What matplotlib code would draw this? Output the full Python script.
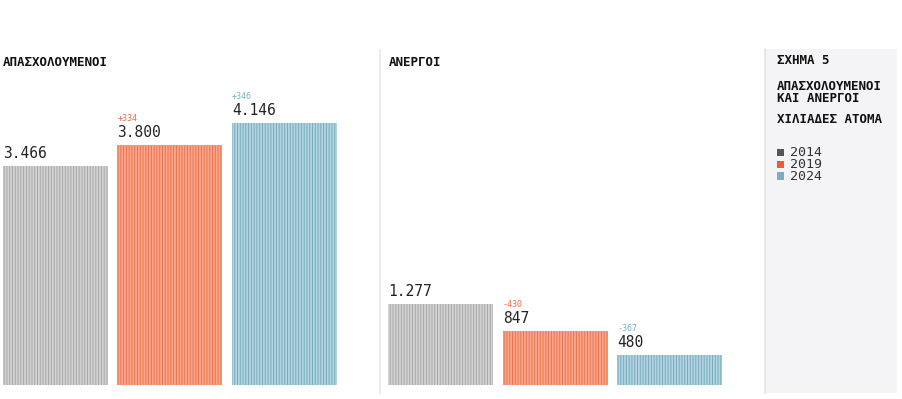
import matplotlib
matplotlib.use("Agg")
import matplotlib.pyplot as plt
from matplotlib.patches import Rectangle
from matplotlib.lines import Line2D

plt.rcParams['font.family'] = ['DejaVu Sans Mono', 'DejaVu Sans']
plt.rcParams['hatch.linewidth'] = 0.7

years = ["2014", "2019", "2024"]
employed = [3466, 3800, 4146]
employed_labels = ["3.466", "3.800", "4.146"]
employed_delta = [None, "+334", "+346"]
unemployed = [1277, 847, 480]
unemployed_labels = ["1.277", "847", "480"]
unemployed_delta = [None, "-430", "-367"]

face_colors = ["#d2d2d2", "#fba68a", "#b2d5e1"]
hatch_colors = ["#a8a8a8", "#e8744f", "#76aabd"]
legend_colors = ["#555555", "#f05c38", "#7badbf"]
delta_colors = [None, "#f06a45", "#7ab0c0"]

W, H = 903, 399
fig = plt.figure(figsize=(W / 100, H / 100), dpi=100)

def fx(px):
    return px / W

def fy(py):
    return 1 - py / H

# side panel
fig.patches.append(Rectangle((fx(765), fy(393)), fx(897) - fx(765), (393 - 49) / H,
                             transform=fig.transFigure, facecolor="#f4f4f6",
                             edgecolor="none", zorder=0))
fig.lines.append(Line2D([fx(765.5), fx(765.5)], [fy(393), fy(49)], transform=fig.transFigure,
                        color="#e4e4e6", lw=1.2))
# separator
fig.lines.append(Line2D([fx(380), fx(380)], [fy(393), fy(50)], transform=fig.transFigure,
                        color="#ececec", lw=1.5))

ymax = 340 * 15.82
bw = 105 / 114.5

def panel(left_px, first_center_px, values, labels, deltas, title):
    ax = fig.add_axes([fx(left_px), (399 - 385) / H, 380 / W, 340 / H])
    x0 = -(first_center_px - left_px) / 114.5
    ax.set_xlim(x0, x0 + 380 / 114.5)
    ax.set_ylim(0, ymax)
    ax.axis("off")
    for i, v in enumerate(values):
        ax.bar(i, v, width=bw, color=face_colors[i], edgecolor=hatch_colors[i],
               hatch="||||||", linewidth=0)
        ax.annotate(labels[i], (i - bw / 2, v), xytext=(0, 5), textcoords="offset pixels",
                    ha="left", va="bottom", fontsize=10.5, color="#222222")
        if deltas[i]:
            ax.annotate(deltas[i], (i - bw / 2, v), xytext=(0, 22), textcoords="offset pixels",
                        ha="left", va="bottom", fontsize=6, color=delta_colors[i])
    fig.text(fx(left_px + (first_center_px - left_px) - 52.5), fy(62), title, fontsize=9,
             fontweight="bold", ha="left", va="center", color="#111111")
    return ax

panel(0, 55.5, employed, employed_labels, employed_delta, "ΑΠΑΣΧΟΛΟΥΜΕΝΟΙ")
panel(380, 441, unemployed, unemployed_labels, unemployed_delta, "ΑΝΕΡΓΟΙ")

# side panel texts
fig.text(fx(777), fy(61), "ΣΧΗΜΑ 5", fontsize=9, fontweight="bold", ha="left", va="center", color="#111111")
fig.text(fx(777), fy(92), "ΑΠΑΣΧΟΛΟΥΜΕΝΟΙ\nΚΑΙ ΑΝΕΡΓΟΙ", fontsize=9, fontweight="bold", ha="left",
         va="center", color="#111111", linespacing=0.9)
fig.text(fx(777), fy(119.5), "ΧΙΛΙΑΔΕΣ ΑΤΟΜΑ", fontsize=9, fontweight="bold", ha="left", va="center",
         color="#111111")
for i, yr in enumerate(years):
    yc = 153 + i * 11.5
    fig.patches.append(Rectangle((fx(777), fy(yc + 3.5)), 7 / W, 7 / H, transform=fig.transFigure,
                                 facecolor=legend_colors[i], edgecolor="none"))
    fig.text(fx(790), fy(yc), yr, fontsize=9.5, ha="left", va="center", color="#333333")

fig.savefig("out.png", dpi=100)
